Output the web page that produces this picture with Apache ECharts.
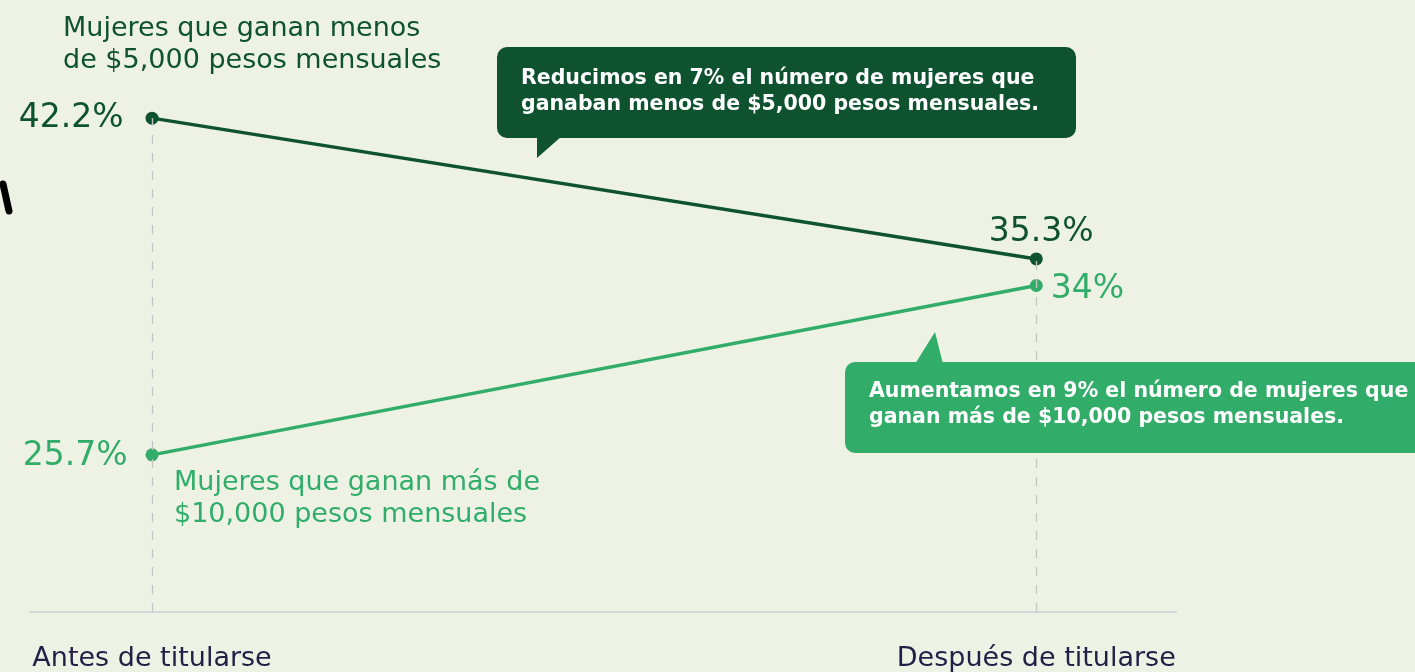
<!DOCTYPE html>
<html>
<head>
<meta charset="utf-8">
<script src="https://cdn.jsdelivr.net/npm/echarts@6/dist/echarts.min.js"></script>
<style>
  html, body { margin: 0; padding: 0; background: #edf2e5; }
  #chart { width: 1415px; height: 672px; }
</style>
</head>
<body>
<div id="chart"></div>
<script>
const periods = ['Antes de titularse', 'Después de titularse']
const menos5000 = [42.2, 35.3]
const mas10000 = [25.7, 34]
const seriesNames = ['Mujeres que ganan menos\nde $5,000 pesos mensuales', 'Mujeres que ganan más de\n$10,000 pesos mensuales']
const notes = [
  'Reducimos en 7% el número de mujeres que\nganaban menos de $5,000 pesos mensuales.',
  'Aumentamos en 9% el número de mujeres que\nganan más de $10,000 pesos mensuales.'
]

const DARK = '#0e5230'
const LIGHT = '#31ad69'
const FONT = '"DejaVu Sans", sans-serif'
const Y_MIN = 18

const chart = echarts.init(document.getElementById('chart'))

// label placement for each point: [position, distance, offset]
const darkPos = [['left', 22, [0, 0]], ['top', 4, [5, 0]]]
const lightPos = [['left', 18, [0, 2]], ['right', 8, [0, 4]]]

const toData = (vals, pos, color) => vals.map((v, i) => ({
  value: [i, v],
  label: {
    show: true,
    position: pos[i][0],
    distance: pos[i][1],
    offset: pos[i][2],
    formatter: v + '%',
    color: color,
    fontFamily: FONT,
    fontSize: 33,
    fontWeight: 'normal'
  }
}))

const guideLines = periods.map((p, i) => [
  { coord: [i, Y_MIN] },
  { coord: [i, Math.max(menos5000[i], mas10000[i])] }
])

const option = {
  backgroundColor: '#edf2e5',
  animation: false,
  grid: { left: 30, right: 239, top: 61, bottom: 60 },
  xAxis: {
    type: 'value',
    min: -0.138,
    max: 1.158,
    splitLine: { show: false },
    axisTick: { show: false },
    axisLine: { show: true, lineStyle: { color: '#d5d9d6', width: 2 } },
    axisLabel: {
      customValues: [0, 1],
      formatter: v => periods[Math.round(v)],
      margin: 33,
      color: '#221f46',
      fontFamily: FONT,
      fontSize: 27,
      fontWeight: 'normal'
    }
  },
  yAxis: {
    type: 'value',
    min: Y_MIN,
    max: 45,
    show: false
  },
  series: [
    {
      name: 'menos',
      type: 'line',
      data: toData(menos5000, darkPos, DARK),
      symbol: 'circle',
      symbolSize: 13,
      lineStyle: { color: DARK, width: 3.5 },
      itemStyle: { color: DARK },
      z: 3,
      markLine: {
        silent: true,
        symbol: ['none', 'none'],
        label: { show: false },
        lineStyle: { color: '#c3c6c3', width: 1.3, type: [9, 9] },
        data: guideLines
      }
    },
    {
      name: 'mas',
      type: 'line',
      data: toData(mas10000, lightPos, LIGHT),
      symbol: 'circle',
      symbolSize: 13,
      lineStyle: { color: LIGHT, width: 3.5 },
      itemStyle: { color: LIGHT },
      z: 3
    }
  ],
  graphic: [
    {
      type: 'text', left: 63, top: 13,
      style: { text: seriesNames[0], fill: DARK, font: '27px ' + FONT, lineHeight: 32 }
    },
    {
      type: 'text', left: 174, top: 467,
      style: { text: seriesNames[1], fill: LIGHT, font: '27px ' + FONT, lineHeight: 32 }
    },
    {
      type: 'group',
      z: 100,
      children: [
        { type: 'rect', z: 100, shape: { x: 497, y: 47, width: 579, height: 91, r: 10 }, style: { fill: DARK } },
        { type: 'polygon', z: 100, shape: { points: [[537, 136], [562, 136], [537, 158]] }, style: { fill: DARK } },
        { type: 'text', z: 101, x: 521, y: 66, style: { text: notes[0], fill: '#ffffff', font: 'bold 20.5px ' + FONT, lineHeight: 26 } }
      ]
    },
    {
      type: 'group',
      z: 100,
      children: [
        { type: 'rect', z: 100, shape: { x: 845, y: 362, width: 600, height: 91, r: 10 }, style: { fill: LIGHT } },
        { type: 'polygon', z: 100, shape: { points: [[915, 364], [943, 364], [935, 332]] }, style: { fill: LIGHT } },
        { type: 'text', z: 101, x: 869, y: 379, style: { text: notes[1], fill: '#ffffff', font: 'bold 20.5px ' + FONT, lineHeight: 26 } }
      ]
    },
    {
      type: 'line',
      shape: { x1: 3, y1: 184, x2: 9, y2: 211 },
      style: { stroke: '#000000', lineWidth: 7, lineCap: 'round' }
    }
  ]
}

chart.setOption(option)
</script>
</body>
</html>
